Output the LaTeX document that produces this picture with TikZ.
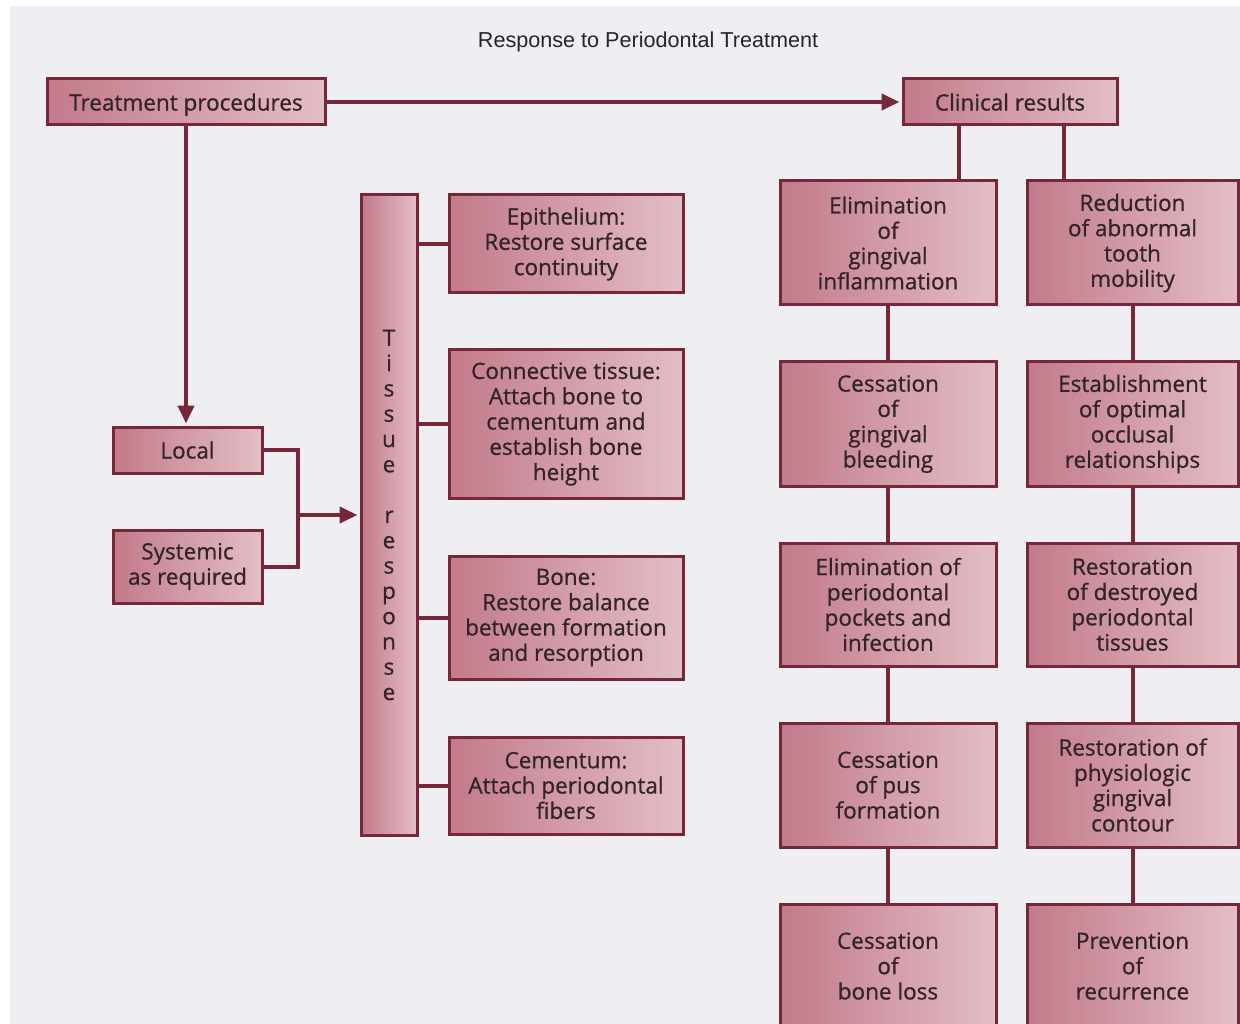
\documentclass[tikz,border=0pt]{standalone}
\usepackage{fontspec}
\setmainfont[FakeBold=0.8]{Open Sans}
\newfontfamily\titlefont{Liberation Sans}
\usetikzlibrary{arrows.meta}
\definecolor{bordc}{HTML}{76283A}
\definecolor{fillL}{HTML}{C27A8A}
\definecolor{fillR}{HTML}{E3BEC6}
\definecolor{bgc}{HTML}{EEEEF3}
\definecolor{txtc}{HTML}{33242A}
\begin{document}
\begin{tikzpicture}[x=1pt,y=-1pt,
  box/.style={draw=bordc, line width=3pt, left color=fillL, right color=fillR,
    align=center, text=txtc, font=\fontsize{22.5}{25.3}\selectfont, inner sep=0pt},
  btxt/.style={text=txtc, font=\fontsize{22.5}{25.3}\selectfont, align=center},
  link/.style={draw=bordc, line width=4pt},
  arr/.style={link, -{Triangle[length=18pt,width=16pt]}, shorten >=2pt}]
\useasboundingbox (0,0) rectangle (1240,1024);
\fill[white] (0,0) rectangle (1240,1024);
\fill[bgc] (10,6) rectangle (1240,1024);
\clip (0,0) rectangle (1240,1024);

\node[font=\titlefont\fontsize{21.6}{24}\selectfont, text=black!85] (title) at (648,42) {Response to Periodontal Treatment};

\node[box, text depth=0pt, minimum width=278, minimum height=46] (tp) at (186,102) {Treatment procedures};
\node[box, text depth=0pt, minimum width=214, minimum height=46] (cr) at (1010,102) {Clinical results};
\node[box, text depth=0pt, minimum width=149, minimum height=46] (local) at (187.5,450) {Local};
\node[box, minimum width=149, minimum height=73] (sys) at (187.5,566.5) {Systemic\\as required};
\node[box, minimum width=56, minimum height=640] (tissue) at (389,515)
  {T\\i\\s\\s\\u\\e\\[25.3pt]r\\e\\s\\p\\o\\n\\s\\e};
\node[box, minimum width=234, minimum height=98] (epi) at (566,244) {Epithelium:\\Restore surface\\continuity};
\node[box, minimum width=234, minimum height=148] (conn) at (566,424) {Connective tissue:\\Attach bone to\\cementum and\\establish bone\\height};
\node[box, minimum width=234, minimum height=123] (bone) at (566,617.5) {Bone:\\Restore balance\\between formation\\and resorption};
\node[box, minimum width=234, minimum height=97] (cem) at (566,785.5) {Cementum:\\Attach periodontal\\fibers};

\node[box, minimum width=216, minimum height=124] (a1) at (888,243) {Elimination\\of\\gingival\\inflammation};
\node[box, minimum width=216, minimum height=124] (a2) at (888,424) {Cessation\\of\\gingival\\bleeding};
\node[box, minimum width=216, minimum height=123] (a3) at (888,604.5) {Elimination of\\periodontal\\pockets and\\infection};
\node[box, minimum width=216, minimum height=124] (a4) at (888,785) {Cessation\\of pus\\formation};
\node[box, minimum width=216, minimum height=140] (a5) at (888,974) {};
\node[btxt] (a5t) at (888,966) {Cessation\\of\\bone loss};

\node[box, minimum width=211, minimum height=124] (b1) at (1132.5,243) {Reduction\\of abnormal\\tooth\\mobility};
\node[box, minimum width=211, minimum height=124] (b2) at (1132.5,424) {Establishment\\of optimal\\occlusal\\relationships};
\node[box, minimum width=211, minimum height=123] (b3) at (1132.5,604.5) {Restoration\\of destroyed\\periodontal\\tissues};
\node[box, minimum width=211, minimum height=124] (b4) at (1132.5,785) {Restoration of\\physiologic\\gingival\\contour};
\node[box, minimum width=211, minimum height=140] (b5) at (1132.5,974) {};
\node[btxt] (b5t) at (1132.5,966) {Prevention\\of\\recurrence};

% connectors
\draw[arr] (tp.east) -- (cr.west);
\draw[arr] (tp.south) -- (tp.south |- local.north);
\coordinate (j) at (298,515);
\draw[link] (local.east) -| (j);
\draw[link] (sys.east) -| (j);
\draw[arr] (j) -- (tissue.west |- j);
\draw[link] (tissue.east |- epi.west) -- (epi.west);
\draw[link] (tissue.east |- conn.west) -- (conn.west);
\draw[link] (tissue.east |- bone.west) -- (bone.west);
\draw[link] (tissue.east |- cem.west) -- (cem.west);

\draw[link] ([xshift=-51pt]cr.south) -- ([xshift=-51pt]cr.south |- a1.north);
\draw[link] ([xshift=54pt]cr.south) -- ([xshift=54pt]cr.south |- b1.north);
\draw[link] (a1.south) -- (a2.north);
\draw[link] (a2.south) -- (a3.north);
\draw[link] (a3.south) -- (a4.north);
\draw[link] (a4.south) -- (a5.north);
\draw[link] (b1.south) -- (b2.north);
\draw[link] (b2.south) -- (b3.north);
\draw[link] (b3.south) -- (b4.north);
\draw[link] (b4.south) -- (b5.north);
\end{tikzpicture}
\end{document}
